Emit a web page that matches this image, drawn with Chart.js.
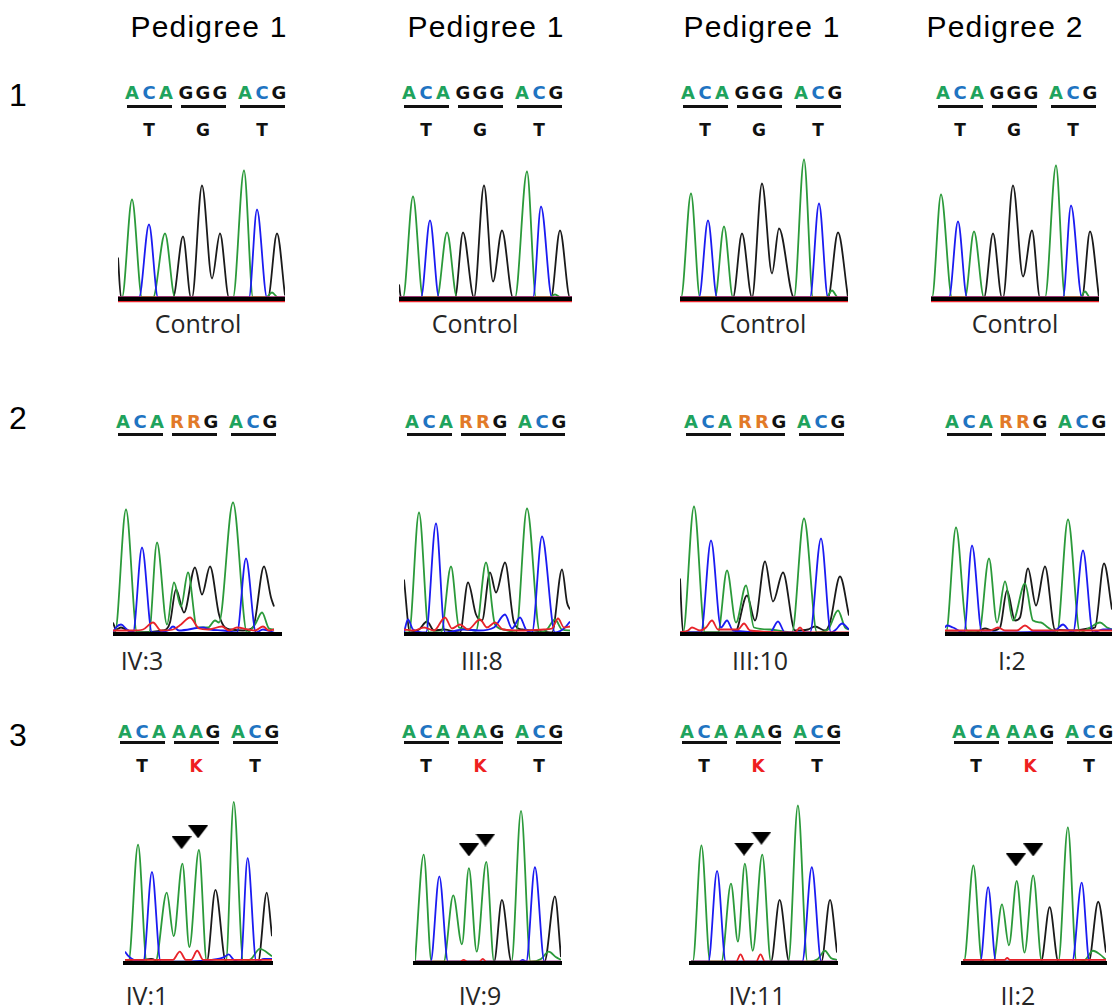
<!DOCTYPE html>
<html>
<head>
<meta charset="utf-8">
<script src="https://cdn.jsdelivr.net/npm/chart.js@4.4.1/dist/chart.umd.min.js"></script>
<style>
  html, body { margin: 0; padding: 0; background: #fff; }
  #fig { position: relative; width: 1119px; height: 1006px; overflow: hidden; }
  .t { position: absolute; transform: translate(-50%, -50%); white-space: nowrap; }
  .hdr { font: 30px "Liberation Sans", Arial, sans-serif; color: #000; letter-spacing: 1.2px; }
  .rownum { font: 32px "Liberation Sans", Arial, sans-serif; color: #000; }
  .lbl { font: 25px "Open Sans", sans-serif; color: #262626; }
  .codon { font: bold 18px "DejaVu Sans", sans-serif; }
  .codon span { display: inline-block; width: 17px; text-align: center; }
  .amino { font: bold 17px "DejaVu Sans", sans-serif; }
  .uline { position: absolute; height: 3px; background: #111; }
  canvas { position: absolute; }
</style>
</head>
<body>
<div id="fig"></div>
<script>
// ---- data ----
var pedigrees = ['Pedigree 1', 'Pedigree 1', 'Pedigree 1', 'Pedigree 2'];
var rowNames = ['1', '2', '3'];
var codons = [['ACA', 'GGG', 'ACG'], ['ACA', 'RRG', 'ACG'], ['ACA', 'AAG', 'ACG']];
var aminoAcids = [['T', 'G', 'T'], null, ['T', 'K', 'T']];
var sampleLabels = [
    ['Control', 'Control', 'Control', 'Control'],
    ['IV:3', 'III:8', 'III:10', 'I:2'],
    ['IV:1', 'IV:9', 'IV:11', 'II:2']
];

// traces: [scan position, signal] pairs, panels in reading order
var greenTraces = [
    [[0,0],[4,0],[14,98],[24,0],[35,0],[47,64],[57,0],[115,0],[126,127],[135,0],[148,0],[154,5],[160,0],[167,0]],
    [[0,0],[4,0],[14,101],[24,0],[38,0],[48,65],[58,0],[116,0],[128,126],[137,0],[150,0],[156,3],[162,0],[173,0]],
    [[0,0],[1,0],[11,104],[20,0],[35,0],[44,71],[53,0],[114,0],[124,138],[133,0],[146,0],[152,7],[158,0],[168,0]],
    [[0,0],[1,0],[10,103],[21,0],[34,0],[43,66],[53,0],[114,0],[125,132],[134,0],[149,0],[154,6],[159,0],[168,0]],
    [[0,0],[2,0],[13,123],[24,0],[36,0],[44,90],[54,8],[61,50],[68,26],[75,60],[84,5],[95,5],[102,12],[106,10],[120,130],[134,0],[142,8],[149,20],[156,4],[161,3]],
    [[0,0],[5,0],[15,120],[25,0],[37,0],[47,66],[55,5],[64,3],[72,2],[82,70],[91,8],[100,3],[112,0],[123,124],[136,0],[143,3],[151,13],[158,3],[166,2]],
    [[0,0],[3,0],[14,126],[25,0],[38,0],[47,62],[56,10],[66,47],[74,5],[90,3],[112,0],[124,114],[137,0],[148,3],[158,22],[165,5],[169,3]],
    [[0,0],[1,0],[11,105],[22,2],[34,0],[44,74],[52,10],[60,51],[68,12],[80,49],[88,12],[96,10],[103,5],[112,0],[123,113],[135,0],[145,5],[155,10],[162,5],[167,3]],
    [[0,0],[4,0],[15,129],[25,0],[35,0],[48,76],[56,28],[66,108],[74,16],[85,123],[94,0],[116,0],[125,176],[136,0],[145,3],[155,14],[169,6]],
    [[0,0],[10,118],[19,0],[33,0],[44,73],[54,19],[62,103],[71,11],[82,110],[91,0],[111,0],[122,166],[133,0],[145,3],[154,11],[162,5],[168,2]],
    [[0,0],[2,0],[12,128],[22,0],[35,0],[46,86],[54,22],[62,108],[71,12],[82,118],[92,0],[112,0],[123,172],[134,0],[146,3],[154,12],[161,4],[168,2]],
    [[0,0],[1,0],[12,106],[22,0],[35,0],[45,63],[53,18],[62,89],[71,10],[81,95],[91,0],[110,0],[121,148],[131,0],[141,2],[150,12],[158,8],[165,2]]
];
var blueTraces = [
    [[0,0],[21,0],[31,73],[40,0],[131,0],[139,88],[149,0],[167,0]],
    [[0,0],[22,0],[31,77],[40,0],[134,0],[142,91],[153,0],[173,0]],
    [[0,0],[19,0],[28,77],[37,0],[130,0],[139,94],[148,0],[168,0]],
    [[0,0],[18,0],[27,76],[36,0],[132,0],[140,92],[151,0],[168,0]],
    [[0,0],[3,5],[8,8],[14,3],[20,0],[29,85],[39,0],[55,2],[60,6],[66,2],[90,5],[97,3],[110,2],[124,0],[133,74],[143,0],[150,3],[161,0]],
    [[0,0],[4,13],[9,3],[22,0],[32,109],[41,0],[60,3],[75,2],[90,5],[101,18],[108,4],[116,15],[122,3],[128,0],[138,96],[151,0],[160,4],[166,11]],
    [[0,0],[21,0],[31,92],[41,5],[47,12],[53,2],[90,0],[98,11],[105,0],[130,0],[141,94],[151,0],[156,3],[162,9],[169,3]],
    [[0,5],[2,7],[8,5],[19,0],[27,87],[37,0],[60,0],[110,2],[118,8],[124,2],[128,0],[138,82],[148,0],[158,3],[167,3]],
    [[0,11],[4,6],[10,2],[21,0],[31,99],[41,0],[60,0],[100,2],[114,5],[119,8],[125,2],[133,0],[141,114],[151,0],[160,3],[169,3]],
    [[0,0],[18,0],[28,94],[38,0],[120,0],[124,2],[128,0],[138,104],[149,0],[168,0]],
    [[0,0],[20,0],[30,100],[40,0],[128,0],[139,104],[150,0],[168,0]],
    [[0,0],[20,0],[29,82],[38,0],[126,0],[137,87],[146,0],[165,0]]
];
var blackTraces = [
    [[0,40],[3,0],[55,0],[65,61],[73,0],[74,0],[84,112],[94,19],[102,64],[111,0],[150,0],[159,64],[167,2]],
    [[0,13],[2,0],[56,0],[64,65],[75,0],[85,112],[94,16],[103,67],[114,0],[152,0],[161,67],[171,0],[173,0]],
    [[0,0],[53,0],[62,64],[72,0],[82,114],[92,24],[99,69],[114,0],[148,0],[158,65],[168,0]],
    [[0,0],[53,0],[62,64],[71,0],[72,0],[82,112],[92,21],[101,67],[109,0],[151,0],[159,66],[168,0]],
    [[0,10],[3,3],[8,5],[15,2],[22,0],[50,2],[57,10],[63,43],[71,20],[82,65],[89,38],[97,66],[106,18],[112,5],[118,3],[130,2],[140,5],[151,66],[158,35],[161,26]],
    [[0,53],[6,0],[15,3],[23,11],[30,2],[40,3],[56,0],[64,50],[72,18],[78,12],[86,60],[92,40],[101,70],[110,10],[118,3],[130,2],[148,0],[158,63],[163,30],[166,23]],
    [[0,54],[3,0],[55,0],[67,37],[75,12],[85,71],[93,31],[103,60],[115,2],[128,3],[135,6],[145,2],[150,10],[160,56],[169,17]],
    [[0,0],[30,0],[40,4],[48,2],[55,5],[62,42],[70,12],[75,15],[83,64],[91,27],[100,66],[110,3],[130,2],[145,4],[150,5],[159,69],[167,23]],
    [[0,0],[10,2],[20,2],[30,3],[40,0],[94,0],[104,79],[116,0],[153,0],[163,76],[169,28]],
    [[0,0],[91,0],[100,68],[111,0],[149,0],[161,72],[168,5]],
    [[0,0],[92,0],[102,68],[113,0],[150,0],[160,68],[168,10]],
    [[0,0],[20,0],[22,2],[24,0],[90,0],[100,60],[110,0],[145,0],[156,66],[165,10]]
];
var redTraces = [
    [[0,0],[167,0]],
    [[0,0],[173,0]],
    [[0,0],[168,0]],
    [[0,0],[168,0]],
    [[0,2],[20,2],[30,3],[40,10],[48,2],[60,3],[68,8],[77,15],[86,4],[95,3],[109,6],[116,2],[124,5],[135,3],[142,2],[150,6],[156,2],[161,3]],
    [[0,3],[10,2],[20,5],[30,2],[41,15],[48,4],[56,8],[64,3],[76,13],[83,5],[91,10],[99,3],[120,2],[140,3],[148,4],[154,14],[160,5],[166,6]],
    [[0,0],[8,2],[12,5],[20,2],[26,5],[32,12],[38,3],[58,3],[64,9],[70,2],[115,0],[120,5],[125,0],[169,0]],
    [[0,2],[45,2],[53,5],[60,2],[72,2],[80,7],[88,2],[167,2]],
    [[0,2],[55,2],[63,11],[70,2],[76,2],[83,12],[90,2],[169,2]],
    [[0,0],[52,0],[56,2],[60,0],[74,0],[78,3],[82,0],[168,0]],
    [[0,0],[52,0],[57,8],[62,0],[75,0],[80,8],[85,0],[168,0]],
    [[0,2],[48,2],[51,4],[54,2],[165,2]]
];
// arrowheads over the two mutant A peaks (row 3 only)
var arrowPeaks = [null, null, null, null, null, null, null, null,
    [[65,131],[84,143]], [[62,123],[81,134]], [[61,124],[81,136]], [[61,112],[81,123]]];

var traceColors = { green: '#2b9a3a', blue: '#1b1bf2', black: '#1a1a1a', red: '#e8232a' };
var baseColors = { A: '#1fa35d', C: '#1f74c2', G: '#111', R: '#e27a28', T: '#111', K: '#ee2020' };

// ---- page geometry ----
var layout = {
    plotLeft: [[118, 399, 680, 931], [113, 404, 680, 945], [114, 404, 680, 952]],
    plotWidth: [[167, 173, 168, 168], [169, 166, 169, 167], [169, 168, 168, 165]],
    barY: [299, 634, 970],
    plotHeight: [165, 150, 195],
    headerX: [209, 486, 762, 1005],
    headerY: 27,
    rowNumX: 18,
    rowNumY: [95, 418, 735],
    codonX: [[149, 426, 705, 960], [140, 429, 708, 969], [142, 426, 704, 976]],
    codonStep: [0, 54, 113],
    letterY: [92, 421, 731],
    lineY: [106, 434, 742],
    aminoY: [130, null, 766],
    labelX: [[198, 475, 763, 1015], [142, 482, 760, 1012], [147, 480, 757, 1018]],
    labelY: [323, 660, 995]
};

var fig = document.getElementById('fig');

function place(html, cls, cx, cy) {
    var d = document.createElement('div');
    d.className = 't ' + cls;
    d.innerHTML = html;
    d.style.left = cx + 'px';
    d.style.top = cy + 'px';
    fig.appendChild(d);
    return d;
}

// downward arrowhead used as point style
var arrowImg = document.createElement('canvas');
arrowImg.width = 20;
arrowImg.height = 13;
(function() {
    var c = arrowImg.getContext('2d');
    c.fillStyle = '#000';
    c.beginPath();
    c.moveTo(0, 0);
    c.lineTo(20, 0);
    c.lineTo(10, 13);
    c.closePath();
    c.fill();
})();

// thin red rule just under the baseline bar (control row)
var underRule = {
    id: 'underRule',
    afterDraw: function(chart, args, opts) {
        if (!opts.show) return;
        var ctx = chart.ctx, x = chart.scales.x;
        ctx.save();
        ctx.strokeStyle = '#e8232a';
        ctx.lineWidth = 1.2;
        ctx.beginPath();
        ctx.moveTo(x.left, x.top + 2.6);
        ctx.lineTo(x.right, x.top + 2.6);
        ctx.stroke();
        ctx.restore();
    }
};

pedigrees.forEach(function(p, i) {
    place(p, 'hdr', layout.headerX[i], layout.headerY);
});
rowNames.forEach(function(r, i) {
    place(r, 'rownum', layout.rowNumX, layout.rowNumY[i]);
});

function trace(points, color) {
    return {
        data: points.map(function(p) { return { x: p[0], y: p[1] }; }),
        borderColor: color,
        borderWidth: 1.8,
        pointRadius: 0,
        fill: false,
        cubicInterpolationMode: 'monotone'
    };
}

for (var r = 0; r < 3; r++) {
    for (var c = 0; c < 4; c++) {
        var k = r * 4 + c;

        // codon header, underlines, amino acids
        codons[r].forEach(function(cod, j) {
            var cx = layout.codonX[r][c] + layout.codonStep[j];
            var html = cod.split('').map(function(b) {
                return '<span style="color:' + baseColors[b] + '">' + b + '</span>';
            }).join('');
            place(html, 'codon', cx, layout.letterY[r]);

            var u = document.createElement('div');
            u.className = 'uline';
            u.style.left = (cx - 22.5) + 'px';
            u.style.width = '45px';
            u.style.top = (layout.lineY[r] - 1.5) + 'px';
            fig.appendChild(u);

            if (aminoAcids[r]) {
                var aa = aminoAcids[r][j];
                place('<span style="color:' + baseColors[aa] + '">' + aa + '</span>', 'amino', cx, layout.aminoY[r]);
            }
        });

        place(sampleLabels[r][c], 'lbl', layout.labelX[r][c], layout.labelY[r]);

        // chromatogram
        var w = layout.plotWidth[r][c];
        var h = layout.plotHeight[r];
        var cv = document.createElement('canvas');
        cv.width = w;
        cv.height = h + 4;
        cv.style.left = layout.plotLeft[r][c] + 'px';
        cv.style.top = (layout.barY[r] - h) + 'px';
        fig.appendChild(cv);

        var datasets = [
            trace(redTraces[k], traceColors.red),
            trace(blueTraces[k], traceColors.blue),
            trace(greenTraces[k], traceColors.green),
            trace(blackTraces[k], traceColors.black)
        ];
        if (arrowPeaks[k]) {
            datasets.push({
                data: arrowPeaks[k].map(function(p) { return { x: p[0], y: p[1] }; }),
                showLine: false,
                pointStyle: arrowImg,
                pointRadius: 10
            });
        }

        new Chart(cv.getContext('2d'), {
            type: 'line',
            data: { datasets: datasets },
            plugins: [underRule],
            options: {
                responsive: false,
                animation: false,
                events: [],
                layout: { padding: { top: 0, right: 0, bottom: 4, left: 0 } },
                plugins: {
                    legend: { display: false },
                    tooltip: { enabled: false },
                    underRule: { show: r === 0 }
                },
                scales: {
                    x: {
                        type: 'linear', min: 0, max: w,
                        ticks: { display: false },
                        grid: { display: false },
                        border: { display: true, color: '#000', width: 4, z: 1 },
                        afterFit: function(s) { s.height = 0; }
                    },
                    y: { min: -1.5, max: h - 1.5, display: false }
                }
            }
        });
    }
}
</script>
</body>
</html>
